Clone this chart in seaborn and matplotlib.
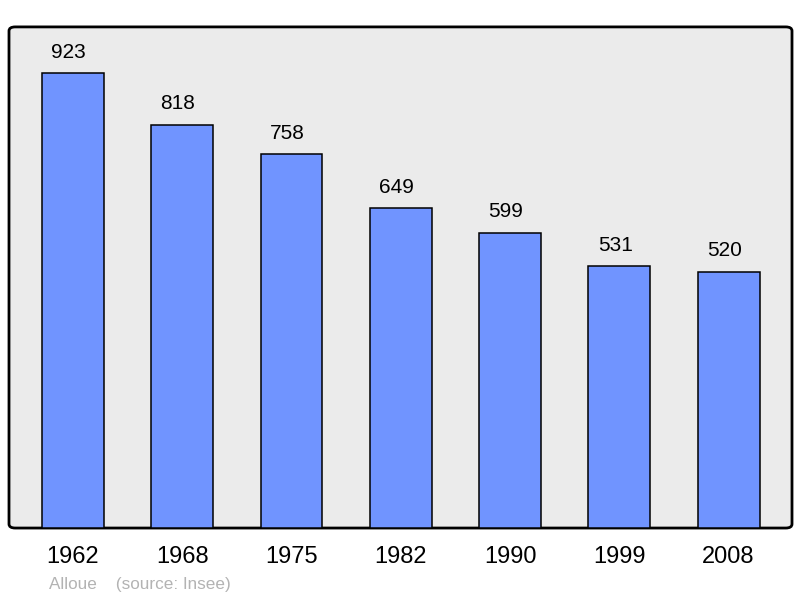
import matplotlib.pyplot as plt
import seaborn as sns
import pandas as pd
from matplotlib.patches import FancyBboxPatch

years = ["1962", "1968", "1975", "1982", "1990", "1999", "2008"]
population = [923, 818, 758, 649, 599, 531, 520]

df = pd.DataFrame({"year": years, "population": population})

sns.set_style("white")
plt.rcParams['font.family'] = ['Liberation Sans', 'DejaVu Sans']

fig = plt.figure(figsize=(8, 5.98), dpi=100)
ax = fig.add_axes([0.01125, 0.117, 0.97875, 0.838])
ax.set_facecolor("none")

# rounded frame behind the bars
frame = FancyBboxPatch((0, 0), 1, 1, boxstyle="round,pad=0,rounding_size=0.008",
                       transform=ax.transAxes, facecolor="#ebebeb", edgecolor="black",
                       linewidth=2, zorder=0, clip_on=False)
ax.add_patch(frame)

sns.barplot(data=df, x="year", y="population", color="#7094ff", saturation=1,
            width=0.567, edgecolor="black", linewidth=1.1, ax=ax, zorder=2)

for i, v in enumerate(population):
    ax.annotate(str(v), (i, v), xytext=(-3, 8), textcoords="offset points",
                ha="center", va="bottom", fontsize=15, color="black")

ax.set_xlim(-0.585, 6.58)
ax.set_ylim(0, 1016)
ax.set_yticks([])
ax.set_xlabel("")
ax.set_ylabel("")
ax.tick_params(axis="x", length=0, pad=13, labelsize=17, labelcolor="black")
for s in ax.spines.values():
    s.set_visible(False)

fig.text(49 / 800, 1 - 584 / 598, "Alloue    (source: Insee)", fontsize=12.3,
         color="#b3b3b3", ha="left", va="center")

fig.savefig("out.png", dpi=100)
